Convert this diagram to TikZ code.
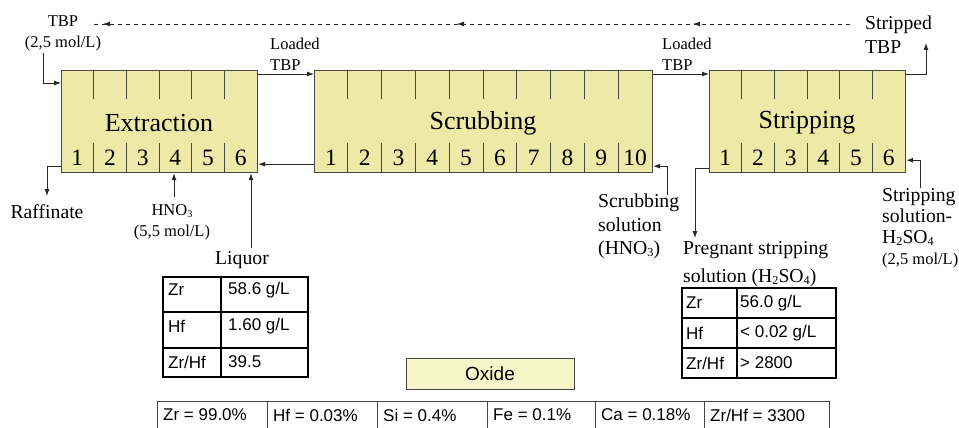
\documentclass[tikz,border=0pt]{standalone}
\usepackage{fontspec}
\usepackage{graphicx}
\setmainfont{Liberation Serif}
\newfontfamily\tabfont{Liberation Sans}
\usetikzlibrary{arrows.meta,decorations.markings}

\definecolor{stagefill}{RGB}{236,234,166}
\definecolor{oxidefill}{RGB}{246,245,202}
\definecolor{edgegray}{RGB}{70,70,70}
\definecolor{flowgray}{RGB}{40,40,40}

% small lowered digits for chemical formulas
\newcommand\chemsub[1]{\raisebox{-0.25ex}{\scalebox{0.62}{#1}}}

\begin{document}
\begin{tikzpicture}[x=1pt,y=-1pt,
  stagebox/.style={draw=edgegray, line width=1.2pt, fill=stagefill,
    minimum height=102pt, inner sep=0pt, anchor=north west},
  tick/.style={draw=edgegray, line width=0.9pt},
  stagetitle/.style={inner sep=0pt, font=\fontsize{26}{30}\selectfont},
  stagenum/.style={inner sep=0pt, font=\fontsize{23.5}{26}\selectfont},
  flow/.style={draw=flowgray, line width=0.8pt, -{Latex[length=7pt,width=5pt]}},
  lbl/.style={inner sep=0pt, font=\fontsize{19.7}{23.5}\selectfont, align=left},
  smalllbl/.style={inner sep=0pt, font=\fontsize{16.5}{21}\selectfont, align=left},
  tabline/.style={draw=black, line width=1.3pt},
  tabtxt/.style={inner sep=0pt, anchor=west, font=\tabfont\fontsize{17}{19}\selectfont},
  rowline/.style={draw=edgegray, line width=0.8pt},
]
\useasboundingbox (0,0) rectangle (959,428);

% ---------- the three stages ----------
\node[stagebox, minimum width=196pt] (ext) at (61,70) {};
\node[stagebox, minimum width=338pt] (scr) at (314,70) {};
\node[stagebox, minimum width=196pt] (str) at (709,70) {};

\foreach \i in {1,...,5} {
  \draw[tick] ({61+\i*196/6},70) -- ++(0,29);
  \draw[tick] ({61+\i*196/6},143) -- ++(0,30);
  \draw[tick] ({709+\i*196/6},70) -- ++(0,29);
  \draw[tick] ({709+\i*196/6},143) -- ++(0,30);
}
\foreach \i in {1,...,9} {
  \draw[tick] ({314+\i*33.8},70) -- ++(0,29);
  \draw[tick] ({314+\i*33.8},143) -- ++(0,30);
}
\foreach \i in {1,...,6} {
  \node[stagenum] (ext-\i) at ({61+(\i-0.5)*196/6},158) {\i};
  \node[stagenum] (str-\i) at ({709+(\i-0.5)*196/6},158) {\i};
}
\foreach \i in {1,...,10} {
  \node[stagenum] (scr-\i) at ({314+(\i-0.5)*33.8},158) {\i};
}
\node[stagetitle] (ext-title) at (159,123) {Extraction};
\node[stagetitle] (scr-title) at (483,123) {Scrubbing};
\node[stagetitle] (str-title) at (807,123) {Stripping};

% ---------- labels ----------
\node[smalllbl, align=center] (tbp) at (63,33) {TBP\\(2,5 mol/L)};
\node[smalllbl, anchor=west] (load1) at (270,54.5) {Loaded\\TBP};
\node[smalllbl, anchor=west] (load2) at (662,54.5) {Loaded\\TBP};
\node[lbl, anchor=west, font=\fontsize{19.7}{24}\selectfont] (stripped) at (865,35) {Stripped\\TBP};
\node[lbl] (raf) at (47,212) {Raffinate};
\node[smalllbl, align=center] (hno) at (172,222.5) {HNO\chemsub{3}\\(5,5 mol/L)};
\node[lbl] (liq) at (242,260) {Liquor};
\node[lbl, anchor=west] (scrsol) at (598,226.5) {Scrubbing\\solution\\(HNO\chemsub{3})};
\node[lbl, anchor=west, font=\fontsize{19.7}{27.5}\selectfont] (preg) at (683,264)
  {Pregnant stripping\\solution (H\chemsub{2}SO\chemsub{4})};
\node[lbl, anchor=west, font=\fontsize{19.7}{21}\selectfont] (strsol) at (882,228)
  {Stripping\\solution-\\H\chemsub{2}SO\chemsub{4}\\{\fontsize{16.5}{20}\selectfont(2,5 mol/L)}};

% ---------- free ends of the streams ----------
\coordinate (dashR) at (850,24);
\coordinate (dashL) at (90,24);
\coordinate (tbpin) at (43,53);
\coordinate (rafout) at (47,196);
\coordinate (hnoin) at (174,197);
\coordinate (liqin) at (251,248);
\coordinate (scrin) at (667,195);
\coordinate (pregout) at (695,238);
\coordinate (strin) at (920,188);
\coordinate (strout) at (926,43);

% ---------- recycled organic (dashed) ----------
\draw[draw=flowgray, line width=0.8pt, dash pattern=on 4pt off 4pt,
  postaction={decorate},
  decoration={markings,
    mark=at position 0.2066 with {\arrow{Latex[length=7pt,width=5pt]}},
    mark=at position 0.5171 with {\arrow{Latex[length=7pt,width=5pt]}},
    mark=at position 0.9829 with {\arrow{Latex[length=7pt,width=5pt]}}}]
  (dashR) -- (dashL);

% ---------- streams ----------
\draw[flow] (tbpin) |- ([yshift=-13pt]ext.north west);
\draw[flow] ([yshift=-4pt]ext.north east) -- ([yshift=-4pt]scr.north west);
\draw[flow] ([yshift=-4pt]scr.north east) -- ([yshift=-4pt]str.north west);
\draw[flow] ([yshift=-4pt]str.north east) -| (strout);
\draw[flow] ([yshift=9pt]scr.south west) -- ([yshift=9pt]ext.south east);
\draw[flow] ([yshift=7pt]ext.south west) -| (rafout);
\draw[flow] (hnoin) -- (hnoin |- ext.south);
\draw[flow] (liqin) -- (liqin |- ext.south);
\draw[flow] (scrin) |- ([yshift=7pt]scr.south east);
\draw[flow] ([yshift=5pt]str.south west) -| (pregout);
\draw[flow] (strin) |- ([yshift=13pt]str.south east);

% ---------- liquor analysis ----------
\draw[tabline] (163,277) rectangle (308,377);
\draw[tabline] (221,277) -- (221,377);
\draw[tabline] (163,312) -- (308,312);
\draw[tabline] (163,348) -- (308,348);
\node[tabtxt] (lq-zr) at (168,290) {Zr};
\node[tabtxt] (lq-zrv) at (228,290) {58.6 g/L};
\node[tabtxt] (lq-hf) at (168,326) {Hf};
\node[tabtxt] (lq-hfv) at (228,326) {1.60 g/L};
\node[tabtxt] (lq-r) at (168,362) {Zr/Hf};
\node[tabtxt] (lq-rv) at (228,362) {39.5};

% ---------- pregnant solution analysis ----------
\draw[tabline] (682,288) rectangle (836,378);
\draw[tabline] (737,288) -- (737,378);
\draw[tabline] (682,318) -- (836,318);
\draw[tabline] (682,348) -- (836,348);
\node[tabtxt] (pg-zr) at (686,303) {Zr};
\node[tabtxt] (pg-zrv) at (740,303) {56.0 g/L};
\node[tabtxt] (pg-hf) at (686,333) {Hf};
\node[tabtxt] (pg-hfv) at (740,333) {< 0.02 g/L};
\node[tabtxt] (pg-r) at (686,363) {Zr/Hf};
\node[tabtxt] (pg-rv) at (740,363) {> 2800};

% ---------- oxide product ----------
\node[draw=edgegray, line width=0.9pt, fill=oxidefill, minimum width=168pt,
  minimum height=31pt, inner sep=0pt, font=\tabfont\fontsize{19}{21}\selectfont]
  (oxide) at (490,373.5) {Oxide};

\draw[rowline] (157,428) -- (157,401) -- (829,401) -- (829,428);
\foreach \xx in {267,377,487,595,704} \draw[rowline] (\xx,401) -- (\xx,428);
\node[tabtxt] (ox-zr) at (163,415) {Zr = 99.0\%};
\node[tabtxt] (ox-hf) at (273,415) {Hf = 0.03\%};
\node[tabtxt] (ox-si) at (383,415) {Si = 0.4\%};
\node[tabtxt] (ox-fe) at (493,415) {Fe = 0.1\%};
\node[tabtxt] (ox-ca) at (601,415) {Ca = 0.18\%};
\node[tabtxt] (ox-r) at (710,415) {Zr/Hf = 3300};
\end{tikzpicture}
\end{document}
